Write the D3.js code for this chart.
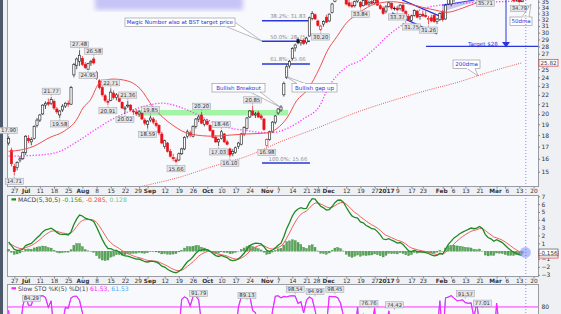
<!DOCTYPE html>
<html>
<head>
<meta charset="utf-8">
<script src="https://cdnjs.cloudflare.com/ajax/libs/d3/7.8.5/d3.min.js"></script>
<style>
body { margin: 0; background: #eef0f4; }
svg { display: block; }
text { font-family: "DejaVu Sans", sans-serif; }
</style>
</head>
<body>
<div id="chart-area"></div>
<script>
/*
*    daily candles Jun 23 2016 - Mar 14 2017, with MACD and slow STO
*/

// open, high, low, close (one row per trading day, first row = Jun 23)
var candles = [
[17.3,17.90,17.1,17.7],[16.7,16.9,15.4,15.6],[15.4,15.6,14.71,15.0],[15.3,15.8,15.1,15.7],[15.9,16.2,15.7,16.0],
[16.0,16.6,15.9,16.5],[16.5,18.0,16.3,17.9],[17.7,18.0,17.3,17.5],[17.4,17.8,17.1,17.6],[17.7,18.9,17.6,18.8],
[18.9,19.6,18.7,19.4],[19.4,20.0,19.2,19.9],[20.0,21.0,19.9,20.9],[20.9,21.3,20.5,21.1],[21.2,21.6,20.8,21.0],
[21.1,21.77,20.9,21.5],[21.3,21.5,20.4,20.6],[20.5,20.7,20.0,20.2],[19.9,20.4,19.58,20.3],[20.4,21.0,20.2,20.8],
[20.8,21.2,20.6,21.1],[21.1,21.4,20.7,21.0],[21.0,23.0,20.9,22.8],[24.3,25.8,24.0,25.6],[25.5,26.5,25.0,26.3],
[26.0,27.48,25.4,26.8],[26.4,26.7,25.4,25.6],[25.6,25.9,25.0,25.2],[25.0,25.8,24.95,25.7],[25.8,26.2,25.4,26.0],
[26.3,26.58,25.6,25.8],[24.6,24.8,23.7,23.9],[23.6,23.8,22.6,22.8],[22.8,23.0,21.8,22.0],[21.9,22.1,21.2,21.4],
[21.3,21.5,20.91,21.2],[21.4,22.71,21.3,22.3],[22.2,22.5,21.5,21.7],[21.7,22.2,21.4,22.0],[22.0,22.1,21.2,21.3],
[21.2,21.3,20.5,20.6],[20.5,20.8,20.02,20.6],[20.8,21.36,20.6,20.9],[20.9,21.0,20.3,20.4],[20.3,20.5,19.9,20.2],
[20.2,20.5,19.8,20.0],[20.0,20.4,19.7,20.2],[20.1,20.2,19.4,19.5],[19.4,19.6,18.9,19.1],[19.0,19.4,18.59,19.3],
[19.4,19.85,19.2,19.6],[19.5,19.7,19.0,19.2],[19.1,19.4,18.7,18.9],[18.9,19.0,18.0,18.2],[18.1,18.3,17.2,17.3],
[17.0,17.6,16.8,17.5],[17.3,17.4,16.5,16.6],[16.6,16.8,16.1,16.2],[16.1,16.4,15.8,16.0],[15.9,16.1,15.66,15.8],
[15.9,16.5,15.8,16.4],[16.4,16.9,16.3,16.8],[16.8,17.9,16.7,17.8],[17.9,18.5,17.7,18.3],[18.2,18.4,17.8,18.0],
[17.9,18.9,17.8,18.8],[18.8,19.6,18.6,19.5],[19.5,19.9,19.2,19.7],[19.9,20.20,19.0,19.1],[19.0,19.5,18.8,19.4],
[19.3,19.5,18.9,19.0],[18.9,19.0,18.3,18.4],[18.4,18.5,17.7,17.8],[17.8,18.0,17.3,17.4],[17.4,17.7,17.03,17.6],
[17.7,18.46,17.6,18.3],[18.1,18.2,17.3,17.4],[17.4,17.6,17.1,17.2],[16.8,16.9,16.10,16.3],[16.4,16.8,16.2,16.6],
[16.5,17.0,16.4,16.9],[17.0,17.4,16.8,17.3],[17.2,18.2,17.1,18.1],[18.1,18.8,17.9,18.7],[18.6,19.7,18.5,19.6],
[19.7,20.4,19.6,20.3],[20.3,20.85,19.8,19.9],[19.9,20.2,19.6,20.0],[20.1,20.3,19.6,19.7],[19.8,20.0,19.4,19.6],
[19.5,19.6,18.4,18.5],[17.1,17.7,16.98,17.6],[17.6,18.4,17.5,18.3],[18.3,19.3,18.2,19.2],[19.2,19.9,19.0,19.8],
[20.1,20.6,19.9,20.5],[20.4,20.9,20.2,20.7],[22.0,23.5,21.8,23.3],[24.0,25.6,23.8,25.3],[25.4,26.2,25.1,26.0],
[26.4,27.9,26.2,27.7],[27.8,28.4,27.3,28.2],[29.0,29.3,28.3,28.5],[28.5,29.0,28.1,28.8],[28.9,29.1,28.2,28.4],
[28.6,29.4,28.3,29.2],[29.5,32.5,29.4,32.3],[32.2,33.4,31.9,33.0],[32.8,33.0,32.0,32.1],[31.8,32.0,30.9,31.1],
[30.5,31.2,30.20,31.0],[31.3,31.9,30.9,31.7],[32.4,32.8,31.5,31.6],[31.8,33.0,31.6,32.9],[33.2,34.8,33.0,34.6],
[35.0,36.2,34.9,36.0],[36.0,36.8,35.5,36.5],[36.6,37.2,36.0,36.4],[36.5,36.9,35.6,35.8],[35.6,35.9,34.4,34.6],
[34.8,35.3,34.0,34.3],[34.4,35.0,33.9,34.2],[34.3,35.2,34.0,35.0],[35.1,35.8,34.8,35.5],[34.9,35.1,33.84,34.2],
[34.3,35.4,34.2,35.2],[35.3,35.6,34.3,34.5],[34.6,35.2,34.2,34.9],[35.0,35.4,34.5,34.7],[34.8,35.5,34.6,35.3],
[35.2,35.5,34.3,34.4],[34.3,34.6,33.6,33.8],[33.9,34.2,32.8,33.0],[33.4,34.4,33.0,34.1],[34.2,35.1,34.0,34.8],
[34.7,34.9,33.6,33.9],[33.9,34.2,33.5,33.9],[33.9,34.3,33.37,33.6],[33.8,34.6,33.5,34.4],[34.4,34.8,33.2,33.4],
[33.3,33.6,32.4,32.6],[32.5,32.9,31.8,32.0],[31.9,32.8,31.75,32.6],[32.7,33.7,32.5,33.5],[33.4,33.6,32.2,32.4],
[32.5,33.0,32.0,32.8],[32.9,33.5,32.4,32.6],[32.7,33.4,32.3,32.5],[32.0,32.6,31.26,32.2],[32.3,32.8,31.6,31.8],
[32.7,32.9,31.5,31.7],[31.7,32.3,31.3,32.1],[32.0,33.2,31.8,33.0],[33.3,33.6,31.7,32.0],[32.1,34.6,32.0,34.4],
[34.6,35.6,34.4,35.4],[34.6,35.6,34.2,35.5],[35.6,36.5,35.0,36.2],[36.2,36.8,35.6,36.3],[36.4,37.2,36.0,36.9],
[36.9,37.5,36.4,37.2],[37.3,38.0,36.8,37.6],[37.6,38.4,37.1,38.0],[38.0,38.9,37.5,38.5],[38.5,38.8,37.6,38.0],
[38.0,39.0,37.7,38.7],[38.8,41.84,38.5,39.6],[39.4,39.8,38.2,38.4],[38.0,38.3,35.71,36.4],[36.2,37.0,35.9,36.8],
[36.9,37.6,36.5,37.3],[37.2,37.5,36.3,36.6],[37.0,38.6,36.9,38.2],[38.0,38.3,37.0,37.2],[37.2,37.5,36.6,37.0],
[36.8,37.1,36.0,36.3],[36.3,36.6,35.6,35.8],[35.9,36.2,35.4,35.6],[35.6,35.9,34.9,35.2],[35.3,35.8,35.0,35.4],
[35.3,35.5,34.79,35.0],[35.0,35.6,34.9,35.3]
];

// [bar number, label, bold]
var dateTicks = [
[2,"27",0],[6,"Jul",1],[11,"11",0],[16,"18",0],[21,"25",0],[26,"Aug",1],[31,"8",0],[36,"15",0],
[41,"22",0],[46,"29",0],[49,"Sep",1],[55,"12",0],[60,"19",0],[65,"26",0],[70,"Oct",1],[75,"10",0],
[80,"17",0],[85,"24",0],[91,"Nov",1],[95,"7",0],[100,"14",0],[105,"21",0],[109,"28",0],[112,"Dec",1],
[119,"12",0],[124,"19",0],[129,"27",0],[133,"2017",1],[137,"9",0],[142,"17",0],[146,"23",0],[153,"Feb",1],
[156,"6",0],[161,"13",0],[166,"21",0],[172,"Mar",1],[175,"6",0],[180,"13",0],[185,"20",0]
];

// moving averages: [bar, price]
var ma20 = [[0,16.6],[4,16.7],[8.6,17.0],[14.6,17.8],[19.2,18.3],[24.1,19.5],[26.2,20.6],[28.7,21.4],
[32.2,23.4],[36.8,23.8],[41.7,23.6],[46.3,22.7],[50.9,20.7],[57.9,18.9],[63.9,18.1],[72,17.9],[78,18.0],
[84,18.1],[91.1,18.2],[94.6,18.6],[98.1,19.6],[101.6,21.4],[105.2,22.5],[109.8,25.3],[112.2,27.3],
[115.7,29.4],[119.3,31.6],[122,32.6],[125,33.6],[128,34.4],[131,34.8],[135,35.0],[139,34.8],[143,34.4],
[147,33.9],[151,33.5],[154.5,33.2],[160,33.9],[166,35.0],[172,35.9],[181,36.2]];
var ma50 = [[0,16.2],[11,16.3],[18,16.6],[24,17.4],[30,18.4],[36,19.4],[42,20.2],[48,20.8],[54,21.1],
[60.4,20.7],[66,20.0],[74.5,18.9],[84,18.4],[92.1,18.2],[98.1,18.6],[103.8,19.5],[109.8,20.9],[112.2,22.5],
[119.2,25.3],[123.9,26.1],[128.4,27.5],[134.4,29.8],[139,31.3],[145,33.6],[152,34.4],[162.5,34.8],
[173.2,35.0],[181,35.1]];
var ma200 = [[32,13.2],[44,13.8],[60.4,14.6],[72,15.4],[84,16.2],[95.7,17.4],[107.3,18.5],[124,20.3],
[135.5,21.4],[147.5,22.5],[159.1,23.5],[166.2,24.3],[181,25.82]];

var priceTicks = [15,16,17,18,19,20,21,22,23,24,25,27,28,29,30,31,32,33,34,35];
var ma200Last = 25.82;

// swing labels on price: [bar, value, above?]
var priceLabels = [[0,17.90,1],[2,14.71,0],[15,21.77,1],[18,19.58,0],[25,27.48,1],[28,24.95,0],[30,26.58,1],
[35,20.91,0],[36,22.71,1],[41,20.02,0],[42,21.36,1],[49,18.59,0],[50,19.85,1],[59,15.66,0],[68,20.20,1],
[74,17.03,0],[75,18.46,1],[78,16.10,0],[86,20.85,1],[91,16.98,0],[110,30.20,0],[124,33.84,0],[137,33.37,0],
[142,31.75,0],[148,31.26,0],[168,35.71,0],[180,34.79,0]];

var fibLevels = [["38.2%",31.83],["50.0%",28.75],["61.8%",25.66],["100.0%",15.66]];
var fibBars = [89.3, 106.2];
var zoneBars = [45.3, 98.5], zonePrices = [19.85, 20.40];
var targetPrice = 28;
var trendUpper = [[138.7,35.3],[152.8,32.4]];
var trendLower = [[135.1,33.1],[151,29.8]];
var wedge = [[152.8,34.4],[164.2,35.3],[164.2,35.0],[152.8,33.3]];
var todayBar = 182.3;

var macdTicks = [7,6,5,4,3,2,1,-1,-2,-3];
// EMA5, EMA30 and signal level just before the first bar (MACD about +1.0, signal +0.8 at the left edge)
var macdSeed = [16.8, 15.8, 0.8];
var macdLast = [-0.156, -0.285, 0.128];
var stoLast = [61.53, 61.53];
var stoLabels = [[8,84.29],[67,91.79],[84,89.13],[101,98.54],[108,94.99],[115,98.45],[127,76.76],
[136,74.42],[161,91.57],[167,77.01]];

var W = 561, H = 314, left = 7, right = 538;

var svg = d3.select("#chart-area").append("svg")
    .attr("width", W)
    .attr("height", H);

var x = d3.scaleLinear().domain([2, 180]).range([14.3, 519.3]);
var yP = d3.scaleLog().domain([14, 35]).range([185.5, 1.7]);
var yM = d3.scaleLinear().domain([-3, 7]).range([274.75, 196.25]);
var yS = d3.scaleLinear().domain([0, 100]).range([358.8, 294]);

var defs = svg.append("defs");
function clip(id, y0, y1) {
    defs.append("clipPath").attr("id", id).append("rect")
        .attr("x", left).attr("y", y0).attr("width", right - left).attr("height", y1 - y0);
}
clip("cP", 0, 186);
clip("cM", 195, 276);
clip("cS", 284, 330);
defs.append("filter").attr("id", "blur").append("feGaussianBlur").attr("stdDeviation", 2.5);

// left strip + panels
svg.append("rect").attr("x", 0).attr("y", 0).attr("width", 3).attr("height", H).attr("fill", "#4b596b");
[[ -1, 186], [195, 276], [284, 330]].forEach((p) => {
    svg.append("rect")
        .attr("x", left + 0.5).attr("y", p[0] + 0.5)
        .attr("width", right - left).attr("height", p[1] - p[0])
        .attr("fill", "#f8f9fc").attr("stroke", "#9a9ca4").attr("stroke-width", 1);
});

// ---------- price panel ----------
var gp = svg.append("g").attr("clip-path", "url(#cP)");

gp.append("rect").attr("x", 95).attr("y", -6).attr("width", 148).attr("height", 16)
    .attr("fill", "#c6c4f6").attr("filter", "url(#blur)");

gp.append("rect")
    .attr("x", x(zoneBars[0])).attr("y", yP(zonePrices[1]))
    .attr("width", x(zoneBars[1]) - x(zoneBars[0]))
    .attr("height", yP(zonePrices[0]) - yP(zonePrices[1]))
    .attr("fill", "#8ef28e").attr("opacity", 0.8);

gp.append("path")
    .attr("d", d3.line().x((d) => x(d[0])).y((d) => yP(d[1]))(wedge) + "Z")
    .attr("fill", "#bdbcf2").attr("opacity", 0.8);

var maLine = d3.line().curve(d3.curveMonotoneX).x((d) => x(d[0])).y((d) => yP(d[1]));
gp.append("path").attr("d", maLine(ma200)).attr("fill", "none")
    .attr("stroke", "#f05a5a").attr("stroke-width", 1).attr("stroke-dasharray", "1,1.2");
gp.append("path").attr("d", maLine(ma50)).attr("fill", "none")
    .attr("stroke", "#ff33ff").attr("stroke-width", 1.3).attr("stroke-dasharray", "1.2,1.8");

// fib levels
fibLevels.forEach((f) => {
    var yy = yP(f[1]);
    gp.append("line").attr("x1", x(fibBars[0])).attr("x2", x(fibBars[1]))
        .attr("y1", yy).attr("y2", yy).attr("stroke", "#2a36d8").attr("stroke-width", 1.5);
    gp.append("text").attr("x", (x(fibBars[0]) + x(fibBars[1])) / 2 + 2).attr("y", yy - 2.5)
        .attr("text-anchor", "middle").attr("font-size", 5.3).attr("fill", "#8d8d95")
        .text(f[0] + ": " + f[1].toFixed(2));
});

// trend lines
[trendUpper, trendLower].forEach((t) => {
    gp.append("line").attr("x1", x(t[0][0])).attr("y1", yP(t[0][1]))
        .attr("x2", x(t[1][0])).attr("y2", yP(t[1][1]))
        .attr("stroke", "#2233dd").attr("stroke-width", 1.3);
});
gp.append("line").attr("x1", x(wedge[0][0])).attr("y1", yP(wedge[0][1]))
    .attr("x2", x(wedge[1][0])).attr("y2", yP(wedge[1][1]))
    .attr("stroke", "#3a44e0").attr("stroke-width", 1);

// target
var yT = yP(targetPrice);
svg.append("line").attr("x1", x(147.1)).attr("x2", right).attr("y1", yT).attr("y2", yT)
    .attr("stroke", "#2a36d8").attr("stroke-width", 1.2);

// candles
var cw = 2.2;
var cg = gp.append("g");
var candleColor = (d, i) => (i > 0 && d[3] < candles[i - 1][3]) ? "#e8121a" : "#1a1a1a";
cg.selectAll("line").data(candles).enter().append("line")
    .attr("x1", (d, i) => x(i)).attr("x2", (d, i) => x(i))
    .attr("y1", (d) => yP(d[1])).attr("y2", (d) => yP(d[2]))
    .attr("stroke", candleColor).attr("stroke-width", 0.7);
cg.selectAll("rect").data(candles).enter().append("rect")
    .attr("x", (d, i) => x(i) - cw / 2)
    .attr("y", (d) => yP(Math.max(d[0], d[3])))
    .attr("width", cw)
    .attr("height", (d) => Math.max(0.7, yP(Math.min(d[0], d[3])) - yP(Math.max(d[0], d[3]))))
    .attr("fill", (d, i) => d[3] > d[0] ? "#ffffff" : candleColor(d, i))
    .attr("stroke", candleColor).attr("stroke-width", 0.6);

gp.append("path").attr("d", maLine(ma20)).attr("fill", "none")
    .attr("stroke", "#f05050").attr("stroke-width", 1);

// value labels
function valueLabel(g, cx, cy, txt, above) {
    var w = txt.length * 3.1 + 2.5, h = 6.2;
    var by = above ? cy - 2.6 - h : cy + 2.6;
    g.append("line").attr("x1", cx).attr("x2", cx)
        .attr("y1", above ? by + h : by).attr("y2", above ? cy - 0.8 : cy + 0.8)
        .attr("stroke", "#999").attr("stroke-width", 0.6);
    g.append("rect").attr("x", cx - w / 2).attr("y", by).attr("width", w).attr("height", h)
        .attr("fill", "#e4e5e9").attr("stroke", "#9b9ca2").attr("stroke-width", 0.5);
    g.append("text").attr("x", cx).attr("y", by + h - 1.3).attr("text-anchor", "middle")
        .attr("font-size", 5.3).attr("fill", "#333").text(txt);
}
var lg = svg.append("g");
priceLabels.forEach((l) => {
    var c = candles[l[0]];
    valueLabel(lg, x(l[0]), yP(l[2] ? c[1] : c[2]), l[1].toFixed(2), l[2]);
});

// callouts
function callout(txt, bx, by, bw, tail) {
    var g = svg.append("g");
    g.append("path").attr("d", "M" + tail[0] + "L" + tail[2] + "L" + tail[1] + "Z")
        .attr("fill", "#ffffff").attr("stroke", "#8c8c94").attr("stroke-width", 0.6);
    g.append("rect").attr("x", bx).attr("y", by).attr("width", bw).attr("height", 8.5)
        .attr("fill", "#ffffff").attr("stroke", "#8c8c94").attr("stroke-width", 0.6);
    g.append("path").attr("d", "M" + tail[0] + "L" + tail[1])
        .attr("stroke", "#ffffff").attr("stroke-width", 1);
    g.append("text").attr("x", bx + bw / 2).attr("y", by + 6.3).attr("text-anchor", "middle")
        .attr("font-size", 5.5).attr("fill", "#2430e0").text(txt);
}
callout("Magic Number also at BST target price", 125, 18, 110, [[226, 26.5], [234.5, 22], [x(fibBars[0]), yP(28.75)]]);
callout("Bullish Breakout", 212, 83.5, 53, [[250, 92], [260, 92], [280, 107]]);
callout("Bullish gap up", 292, 83.5, 45, [[297, 83.5], [305, 83.5], [285, 76]]);
callout("50dma", 510, 17, 22, [[522, 17], [529, 17], [531, 4]]);
callout("200dma", 453, 60, 27, [[467, 68.5], [475, 68.5], [478, 76]]);

svg.append("text").attr("x", 483).attr("y", 46).attr("text-anchor", "middle")
    .attr("font-size", 5.6).attr("fill", "#2430e0").text("Target $28");
svg.append("line").attr("x1", 506).attr("x2", 506).attr("y1", 0).attr("y2", 43)
    .attr("stroke", "#2a36d8").attr("stroke-width", 1);
svg.append("path").attr("d", "M502,42L510,42L506,47.5Z").attr("fill", "#2a36d8");

// price axis (the 35 at the very top is clipped by the frame, as on the original)
var yAxisCall = d3.axisRight(yP).tickValues(priceTicks).tickFormat(d3.format("d")).tickSize(2);
var ya = svg.append("g").attr("transform", "translate(" + right + ",0)").call(yAxisCall);
ya.select(".domain").remove();
ya.selectAll("text").attr("font-size", 6).attr("fill", "#333").attr("x", 3.5);
ya.selectAll("line").attr("stroke", "#888");
svg.append("rect").attr("x", 539).attr("y", yP(ma200Last) - 3.4).attr("width", 19).attr("height", 6.8)
    .attr("fill", "#fff").attr("stroke", "#e83030").attr("stroke-width", 0.7);
svg.append("text").attr("x", 548.5).attr("y", yP(ma200Last) + 2.1).attr("text-anchor", "middle")
    .attr("font-size", 5.6).attr("fill", "#333").text(ma200Last.toFixed(2));

// date axes (labels that sit close together are nudged apart, as on the original)
function dateAxis(y0) {
    var call = d3.axisBottom(x).tickValues(dateTicks.map((d) => d[0]))
        .tickFormat((d, i) => dateTicks[i][1]).tickSize(2);
    var g = svg.append("g").attr("transform", "translate(0," + y0 + ")").call(call);
    g.select(".domain").remove();
    g.selectAll("line").attr("stroke", "#888");
    g.selectAll("text").attr("font-size", 5.8).attr("fill", "#333").attr("y", 2.5)
        .attr("font-weight", (d, i) => dateTicks[i][2] ? "bold" : "normal")
        .attr("dx", (d, i) => {
            if (i + 1 < dateTicks.length && dateTicks[i + 1][0] - dateTicks[i][0] < 4) return -1.5;
            if (i > 0 && dateTicks[i][0] - dateTicks[i - 1][0] < 4) return 1.8;
            return 0;
        });
}
dateAxis(186.5);
dateAxis(276.5);

// ---------- MACD ----------
var closes = candles.map((d) => d[3]);
var macd = [], signal = [], hist = [];
var e5 = macdSeed[0], e30 = macdSeed[1], sig = macdSeed[2];
closes.forEach((c) => {
    e5 += (c - e5) * 2 / 6;
    e30 += (c - e30) * 2 / 31;
    var m = e5 - e30;
    sig += (m - sig) * 2 / 6;
    macd.push(m);
    signal.push(sig);
    hist.push(m - sig);
});

var gm = svg.append("g").attr("clip-path", "url(#cM)");
gm.selectAll("rect").data(hist).enter().append("rect")
    .attr("x", (d, i) => x(i) - 1)
    .attr("y", (d) => Math.min(yM(0), yM(d)))
    .attr("width", 2)
    .attr("height", (d) => Math.abs(yM(d) - yM(0)))
    .attr("fill", "#5aa85a").attr("stroke", "#2e7a2e").attr("stroke-width", 0.3);
var line = d3.line().x((d, i) => x(i));
gm.append("path").attr("d", line.y((d) => yM(d))(signal)).attr("fill", "none")
    .attr("stroke", "#f06060").attr("stroke-width", 1);
gm.append("path").attr("d", line.y((d) => yM(d))(macd)).attr("fill", "none")
    .attr("stroke", "#1f8a1f").attr("stroke-width", 1.3);
gm.append("circle").attr("cx", x(todayBar) - 0.5).attr("cy", yM(macdLast[0])).attr("r", 5.5)
    .attr("fill", "#7f8cff").attr("opacity", 0.55);

var mh = svg.append("text").attr("x", 18).attr("y", 201.8).attr("font-size", 6.1);
mh.append("tspan").attr("fill", "#444").text("MACD(5,30,5) ");
mh.append("tspan").attr("fill", "#2a9a2a").text(macdLast[0].toFixed(3) + ", ");
mh.append("tspan").attr("fill", "#e84848").text(macdLast[1].toFixed(3) + ", ");
mh.append("tspan").attr("fill", "#7ac47a").text(macdLast[2].toFixed(3));
svg.append("rect").attr("x", 11.5).attr("y", 198.3).attr("width", 4.5).attr("height", 2.2).attr("fill", "#1f8a1f");

var mAxisCall = d3.axisRight(yM).tickValues(macdTicks).tickFormat(d3.format("d")).tickSize(2);
var ma = svg.append("g").attr("transform", "translate(" + right + ",0)").call(mAxisCall);
ma.select(".domain").remove();
ma.selectAll("text").attr("font-size", 6).attr("fill", "#333").attr("x", 3.5);
ma.selectAll("line").attr("stroke", "#888");
svg.append("rect").attr("x", 539).attr("y", yM(macdLast[1]) - 2.2).attr("width", 19).attr("height", 6.8)
    .attr("fill", "#fff").attr("stroke", "#e83030").attr("stroke-width", 0.7);
svg.append("rect").attr("x", 539).attr("y", yM(macdLast[0]) - 3.4).attr("width", 19).attr("height", 6.8)
    .attr("fill", "#fff").attr("stroke", "#555").attr("stroke-width", 0.7);
svg.append("text").attr("x", 548.5).attr("y", yM(macdLast[0]) + 2.1).attr("text-anchor", "middle")
    .attr("font-size", 5.6).attr("fill", "#333").text(macdLast[0].toFixed(3));

// ---------- Slow STO ----------
var stoK = candles.map((d, i) => {
    var w = candles.slice(Math.max(0, i - 4), i + 1);
    var hh = d3.max(w, (e) => e[1]), ll = d3.min(w, (e) => e[2]);
    return 100 * (d[3] - ll) / (hh - ll);
});
var gs = svg.append("g").attr("clip-path", "url(#cS)");
gs.append("line").attr("x1", left).attr("x2", right).attr("y1", yS(80)).attr("y2", yS(80))
    .attr("stroke", "#ff33ff").attr("stroke-width", 1);
gs.append("path").attr("d", d3.line().x((d, i) => x(i)).y((d) => yS(d))(stoK))
    .attr("fill", "none").attr("stroke", "#55aaff").attr("stroke-width", 1);
gs.append("path").attr("d", d3.line().x((d, i) => x(i)).y((d) => yS(d))(stoK))
    .attr("fill", "none").attr("stroke", "#ff22ff").attr("stroke-width", 1.1);
var sl = svg.append("g");
stoLabels.forEach((l) => valueLabel(sl, x(l[0]), yS(l[1]), l[1].toFixed(2), 1));

var sh = svg.append("text").attr("x", 18).attr("y", 290.6).attr("font-size", 6.1);
sh.append("tspan").attr("fill", "#444").text("Slow STO %K(5) %D(1) ");
sh.append("tspan").attr("fill", "#ff22ff").text(stoLast[0].toFixed(2) + ", ");
sh.append("tspan").attr("fill", "#44aaff").text(stoLast[1].toFixed(2));
svg.append("rect").attr("x", 11.5).attr("y", 287.2).attr("width", 4.5).attr("height", 2.2).attr("fill", "#ff22ff");
svg.append("text").attr("x", 541.5).attr("y", yS(80) + 2.1).attr("font-size", 6).attr("fill", "#333").text("80");

// today marker
svg.append("line").attr("x1", x(todayBar)).attr("x2", x(todayBar)).attr("y1", 0).attr("y2", H)
    .attr("stroke", "#6c6cf0").attr("stroke-width", 0.8).attr("stroke-dasharray", "1,2");
</script>
</body>
</html>
